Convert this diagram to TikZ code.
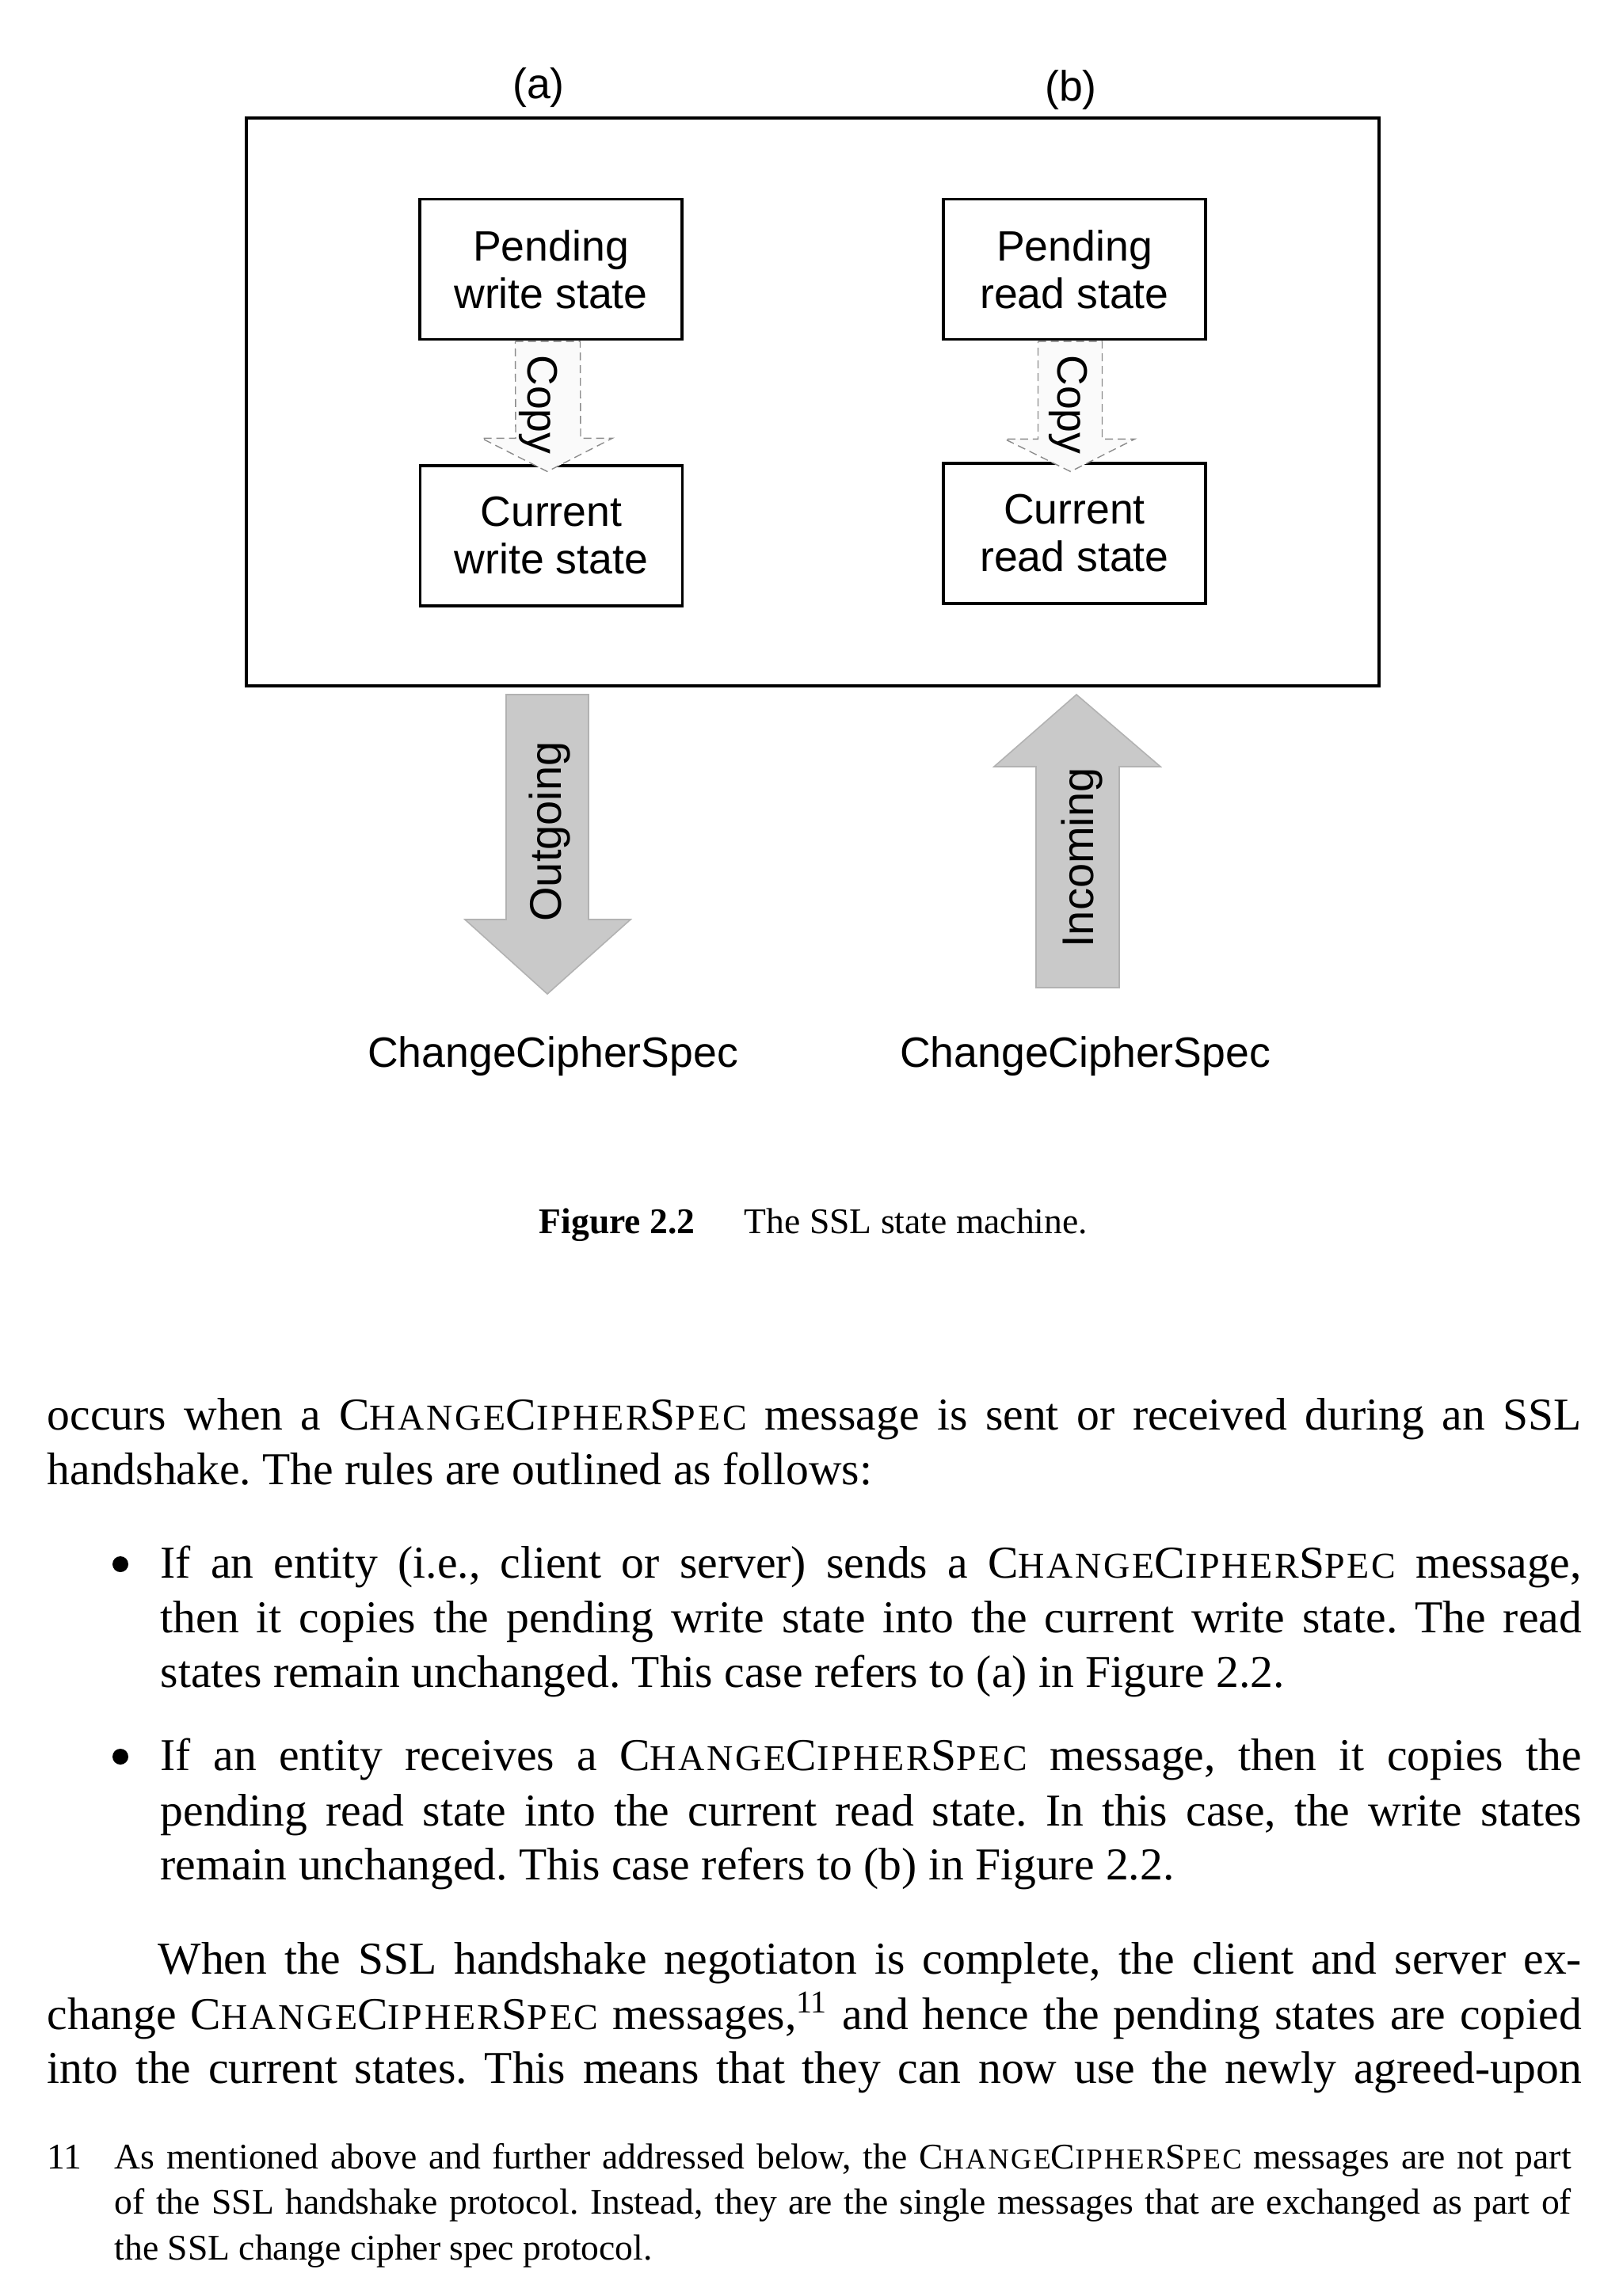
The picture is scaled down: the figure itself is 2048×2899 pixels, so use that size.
\documentclass[tikz,border=0pt]{standalone}
\usepackage{fontspec}
\setmainfont{Liberation Serif}
\newfontfamily\figfont{Liberation Sans}
\newfontfamily\scfont[LetterSpace=6]{Liberation Serif}
\usetikzlibrary{calc}
\frenchspacing

% fake small caps for the message name
\newcommand\CCS[1]{C{\scfont\fontsize{#1}{0pt}\selectfont HANGE}C{\scfont\fontsize{#1}{0pt}\selectfont IPHER}S{\scfont\fontsize{#1}{0pt}\selectfont PEC}}
\newcommand\jline[2]{\hbox to #1{#2}}

\begin{document}
\begin{tikzpicture}[x=0.25pt, y=-0.25pt,
    statebox/.style={draw, line width=0.8pt, minimum width=82.75pt, minimum height=44.25pt,
        inner sep=0pt, align=center, font=\figfont\fontsize{13.4}{15}\selectfont},
    figlabel/.style={inner sep=0pt, anchor=base, font=\figfont\fontsize{13.4}{15}\selectfont},
    copyarrow/.style={draw=black!45, dash pattern=on 2.5pt off 1.5pt, fill=black!2, line width=0.35pt},
    bigarrow/.style={fill=black!21, draw=black!30, line width=0.4pt},
    capline/.style={anchor=base west, inner sep=0pt, font=\fontsize{11.4}{13.7}\selectfont},
    txtline/.style={anchor=base west, inner sep=0pt, font=\fontsize{14.4}{17.25}\selectfont},
    fnline/.style={anchor=base west, inner sep=0pt, font=\fontsize{11.4}{14.25}\selectfont},
    bulletdot/.style={circle, fill, inner sep=0pt, minimum size=5pt}]
        \fill[white] (0,0) rectangle (2048,2899);
        \useasboundingbox (0,0) rectangle (2048,2899);

        % Draw the frame and the states
        \node[draw, line width=0.8pt, minimum width=357.5pt, minimum height=179.25pt, inner sep=0pt] (frame) at (1026,507.5) {};
        \node[figlabel] (la) at (680,125) {(a)};
        \node[figlabel] (lb) at (1352,128) {(b)};
        \node[statebox] (pw) at (695.5,340) {Pending\\write state};
        \node[statebox] (cw) at (696,676.5) {Current\\write state};
        \node[statebox] (pr) at (1356.5,340) {Pending\\read state};
        \node[statebox] (cr) at (1356.5,673.5) {Current\\read state};

        % Copy arrows
        \draw[copyarrow] ($(pw.south)+(-45,1)$) -- ($(pw.south)+(37,1)$) -- ($(cw.north)+(37,-33)$)
            -- ($(cw.north)+(77,-33)$) -- ($(cw.north)+(-5,9)$) -- ($(cw.north)+(-88,-33)$)
            -- ($(cw.north)+(-45,-33)$) -- cycle;
        \draw[copyarrow] ($(pr.south)+(-46,1)$) -- ($(pr.south)+(35,1)$) -- ($(cr.north)+(35,-29)$)
            -- ($(cr.north)+(76,-29)$) -- ($(cr.north)+(-5,12)$) -- ($(cr.north)+(-88,-29)$)
            -- ($(cr.north)+(-46,-29)$) -- cycle;
        \node[figlabel, rotate=-90] (cpa) at (666,511) {Copy};
        \node[figlabel, rotate=-90] (cpb) at (1335,511) {Copy};

        % Outgoing and incoming arrows
        \draw[bigarrow] (639,877) -- (743,877) -- (743,1161) -- (796,1161) -- (691,1255)
            -- (587,1161) -- (639,1161) -- cycle;
        \draw[bigarrow] (1359,877) -- (1465,968) -- (1413,968) -- (1413,1247) -- (1308,1247)
            -- (1308,968) -- (1255,968) -- cycle;
        \node[figlabel, rotate=90, font=\figfont\fontsize{14}{16}\selectfont] (out) at (708,1050) {Outgoing};
        \node[figlabel, rotate=90, font=\figfont\fontsize{14}{16}\selectfont] (inc) at (1380,1083) {Incoming};
        \node[figlabel] (ccsa) at (698,1347) {ChangeCipherSpec};
        \node[figlabel] (ccsb) at (1370,1347) {ChangeCipherSpec};

        % Caption
        \node[capline] (figno) at (680,1557) {\bfseries Figure 2.2};
        \node[capline] (figcap) at (939,1557) {The SSL state machine.};

        % Body text
        \node[txtline] (t1) at (59,1805) {\jline{484.25pt}{occurs when a \CCS{11.5} message is sent or received during an SSL}};
        \node[txtline] (t2) at (59,1874) {handshake. The rules are outlined as follows:};
        \node[bulletdot] (bul1) at (152,1975) {};
        \node[txtline] (b1a) at (202,1992) {\jline{448.5pt}{If an entity (i.e., client or server) sends a \CCS{11.5} message,}};
        \node[txtline] (b1b) at (202,2061) {\jline{448.5pt}{then it copies the pending write state into the current write state. The read}};
        \node[txtline] (b1c) at (202,2130) {states remain unchanged. This case refers to (a) in Figure 2.2.};
        \node[bulletdot] (bul2) at (152,2218) {};
        \node[txtline] (b2a) at (202,2235) {\jline{448.5pt}{If an entity receives a \CCS{11.5} message, then it copies the}};
        \node[txtline] (b2b) at (202,2305) {\jline{448.5pt}{pending read state into the current read state. In this case, the write states}};
        \node[txtline] (b2c) at (202,2373) {remain unchanged. This case refers to (b) in Figure 2.2.};
        \node[txtline] (p1) at (199,2492) {\jline{449.25pt}{When the SSL handshake negotiaton is complete, the client and server ex-}};
        \node[txtline] (p2) at (59,2562) {\jline{484.25pt}{change \CCS{11.5} messages,\textsuperscript{11} and hence the pending states are copied}};
        \node[txtline] (p3) at (59,2630) {\jline{484.25pt}{into the current states. This means that they can now use the newly agreed-upon}};

        % Footnote
        \node[fnline] (fnno) at (59,2738) {11};
        \node[fnline] (f1) at (144,2738) {\jline{459.75pt}{As mentioned above and further addressed below, the \CCS{9.1} messages are not part}};
        \node[fnline] (f2) at (144,2795) {\jline{459.75pt}{of the SSL handshake protocol. Instead, they are the single messages that are exchanged as part of}};
        \node[fnline] (f3) at (144,2853) {the SSL change cipher spec protocol.};
    \end{tikzpicture}
\end{document}
